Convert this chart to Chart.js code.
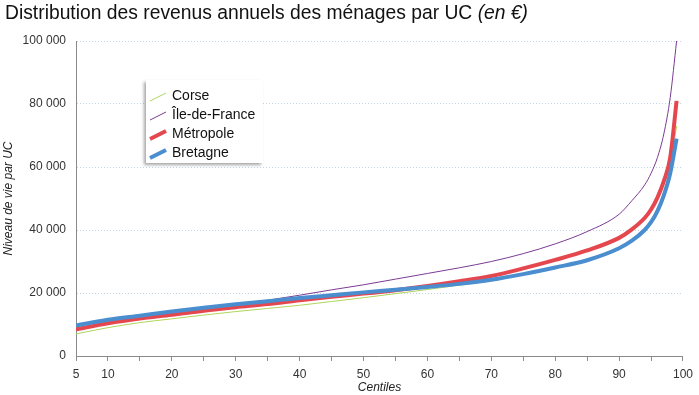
<!DOCTYPE html>
<html>
<head>
<meta charset="utf-8">
<script src="https://cdn.jsdelivr.net/npm/chart.js@4"></script>
<style>
  html, body { margin: 0; padding: 0; background: #fff; }
  canvas { display: block; }
</style>
</head>
<body>
<canvas id="chart" width="699" height="395"></canvas>
<script>
// centiles on the x axis, income per UC (euros) for each area
const centiles = [5, 10, 15, 20, 25, 30, 35, 40, 45, 50, 55, 60, 65, 70, 75, 80, 85, 90, 92, 94, 95, 96, 97, 98, 99];
const corse = [7000, 9000, 10600, 11800, 13000, 14100, 15100, 16100, 17300, 18500, 19800, 21100, 22500, 23900, 25800, 28100, 30700, 34500, 37000, 40500, 43000, 47000, 52000, 60000, 73000];
const ileDeFrance = [8300, 10300, 11900, 13400, 14900, 16300, 17700, 19300, 21000, 22600, 24400, 26200, 28000, 30000, 32500, 35600, 39500, 45000, 49300, 54300, 58000, 63000, 70500, 82000, 100000];
const metropole = [8500, 10400, 11900, 13100, 14400, 15500, 16500, 17700, 18800, 19800, 20900, 22200, 23700, 25400, 27800, 30500, 33500, 37500, 40200, 43800, 46500, 50300, 55500, 63000, 81000];
const bretagne = [9700, 11500, 12800, 14100, 15300, 16400, 17400, 18400, 19300, 20200, 21000, 21900, 22900, 24200, 26000, 28100, 30400, 34200, 36600, 40000, 42500, 46000, 51000, 58000, 69000];

const seriesNames = ['Corse', 'Île-de-France', 'Métropole', 'Bretagne'];
const seriesColors = ['#b0d45c', '#7b3b93', '#e5474f', '#4a8ed0'];
const seriesWidths = [1, 1, 4, 4];
const seriesValues = [corse, ileDeFrance, metropole, bretagne];

const FONT = "'Liberation Sans', Arial, sans-serif";

function fmt(v) {
  return String(v).replace(/\B(?=(\d{3})+(?!\d))/g, ' ');
}

const titlePlugin = {
  id: 'titre',
  afterDraw(chart) {
    const ctx = chart.ctx;
    ctx.save();
    ctx.fillStyle = '#111';
    ctx.textBaseline = 'alphabetic';
    ctx.font = '19.3px ' + FONT;
    const main = 'Distribution des revenus annuels des ménages par UC';
    ctx.fillText(main, 5, 19);
    const w = ctx.measureText(main + ' ').width;
    ctx.font = 'italic 19.3px ' + FONT;
    ctx.fillText('(en €)', 5 + w, 19);
    ctx.restore();
  }
};

const legendPlugin = {
  id: 'legende',
  afterDraw(chart) {
    const ctx = chart.ctx;
    const x0 = 146, y0 = 80, w = 117, h = 83;
    ctx.save();
    ctx.shadowColor = 'rgba(0,0,0,0.35)';
    ctx.shadowOffsetX = -2;
    ctx.shadowOffsetY = 2;
    ctx.shadowBlur = 3;
    ctx.fillStyle = '#fff';
    ctx.fillRect(x0, y0, w, h);
    ctx.restore();

    ctx.save();
    ctx.font = '14px ' + FONT;
    ctx.textBaseline = 'middle';
    seriesNames.forEach((name, i) => {
      const y = 96 + i * 19;
      ctx.strokeStyle = seriesColors[i];
      ctx.lineWidth = seriesWidths[i];
      ctx.lineCap = 'butt';
      ctx.beginPath();
      ctx.moveTo(150, y + 5);
      ctx.lineTo(166, y - 3);
      ctx.stroke();
      ctx.fillStyle = '#111';
      ctx.fillText(name, 172, y);
    });
    ctx.restore();
  }
};

const datasets = seriesNames.map((name, i) => ({
  label: name,
  data: centiles.map((c, j) => ({ x: c, y: seriesValues[i][j] })),
  borderColor: seriesColors[i],
  backgroundColor: seriesColors[i],
  borderWidth: seriesWidths[i],
  pointRadius: 0,
  fill: false,
  cubicInterpolationMode: 'monotone',
  order: seriesNames.length - i
}));

new Chart(document.getElementById('chart').getContext('2d'), {
  type: 'line',
  data: { datasets: datasets },
  options: {
    responsive: false,
    animation: false,
    devicePixelRatio: 1,
    layout: { padding: { top: 41, right: 9, bottom: 0, left: 0 } },
    plugins: {
      legend: { display: false },
      tooltip: { enabled: false },
      title: { display: false }
    },
    scales: {
      x: {
        type: 'linear',
        min: 5,
        max: 100,
        afterFit(scale) { scale.height = 39; },
        ticks: {
          stepSize: 5,
          autoSkip: false,
          maxRotation: 0,
          padding: 6,
          color: '#333',
          font: { family: FONT, size: 12 },
          callback: v => (v === 5 || v % 10 === 0) ? String(v) : ''
        },
        grid: {
          drawOnChartArea: false,
          drawTicks: true,
          tickLength: 5,
          color: '#8a8a8a'
        },
        border: { display: true, color: '#8a8a8a', width: 1 },
        title: {
          display: true,
          text: 'Centiles',
          color: '#222',
          font: { family: FONT, size: 12, style: 'italic' },
          padding: { top: 0, bottom: 0 }
        }
      },
      y: {
        min: 0,
        max: 100000,
        afterFit(scale) { scale.width = 76; },
        ticks: {
          stepSize: 20000,
          padding: 10,
          color: '#333',
          font: { family: FONT, size: 12 },
          callback: v => fmt(v)
        },
        grid: {
          drawTicks: false,
          color: ctx => ctx.tick && ctx.tick.value === 0 ? 'rgba(0,0,0,0)' : '#c3d4ea',
          lineWidth: 1
        },
        border: { display: true, color: '#8a8a8a', width: 1, dash: [1, 2] },
        title: {
          display: true,
          text: 'Niveau de vie par UC',
          color: '#222',
          font: { family: FONT, size: 12, style: 'italic' },
          padding: { top: 1, bottom: 0 }
        }
      }
    }
  },
  plugins: [titlePlugin, legendPlugin]
});
</script>
</body>
</html>
